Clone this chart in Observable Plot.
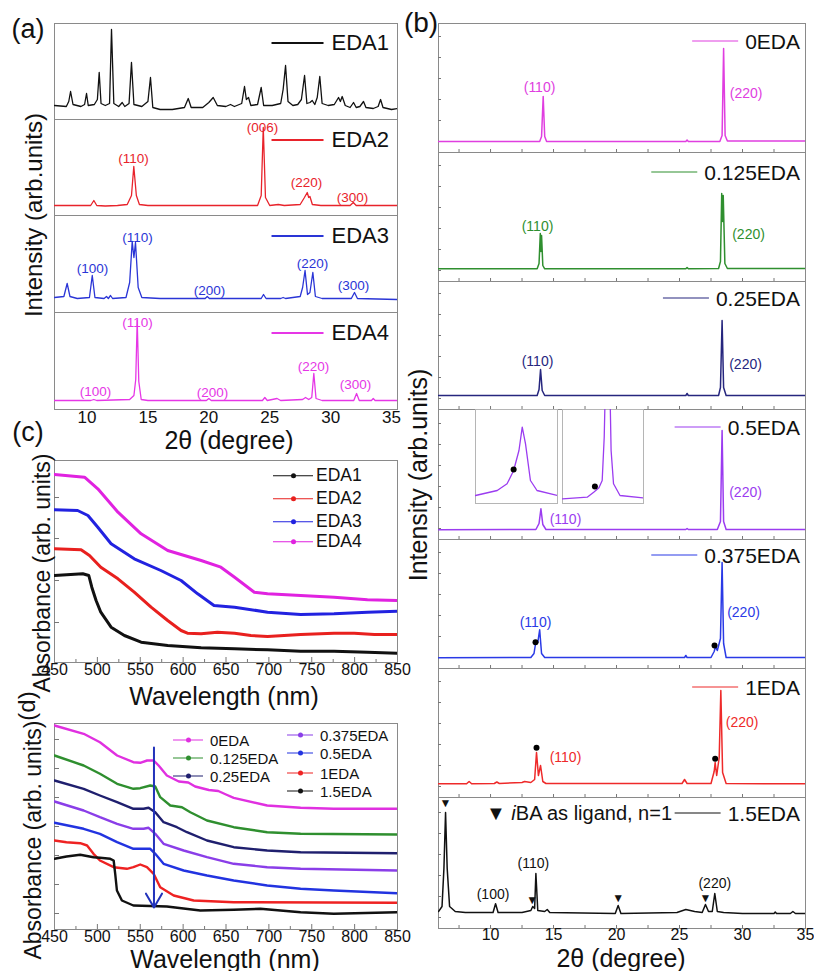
<!DOCTYPE html>
<html><head><meta charset="utf-8">
<script src="https://cdn.jsdelivr.net/npm/d3@7"></script>
<script src="https://cdn.jsdelivr.net/npm/@observablehq/plot@0.6"></script>
<style>
body{margin:0;background:#fff;}
#root{position:relative;width:814px;height:971px;overflow:hidden;font-family:'Liberation Sans',Arial,sans-serif;color:#111;background:#fff;}
.abs{position:absolute;white-space:nowrap;line-height:1;}
.row{position:absolute;display:flex;align-items:center;white-space:nowrap;line-height:1;}
</style></head><body><div id="root"></div>
<script>
// ---------------- DATA ----------------
// Panel (a): XRD patterns, 2θ (deg) vs intensity (arb.)
const eda1 = [[7.33,14],[8.3,13],[8.5,18],[8.65,28],[8.85,15],[9.5,13],[9.8,15],[9.96,26],[10.1,14],[10.6,15],[10.85,20],[11.0,47],[11.15,16],[11.5,14],[11.85,16],[12.01,90],[12.2,16],[12.6,13],[12.89,17],[13.1,13],[13.45,16],[13.65,57],[13.85,15],[14.5,13],[15.0,18],[15.21,42],[15.4,12],[16,10],[17,10],[18.0,12],[18.31,21],[18.55,12],[19.5,12],[20.0,17],[20.36,22],[20.7,14],[21.4,13],[21.78,15],[22.1,13],[22.7,16],[22.93,33],[23.08,20],[23.26,22],[23.45,14],[24.0,15],[24.3,32],[24.5,14],[25.2,14],[25.9,16],[26.1,30],[26.3,54],[26.5,18],[26.9,14],[27.3,15],[27.6,20],[27.86,44],[28.05,16],[28.3,17],[28.49,19],[28.7,15],[28.9,22],[29.11,43],[29.3,16],[29.8,14],[30.3,15],[30.65,22],[30.8,18],[30.95,23],[31.2,14],[31.6,12],[31.88,17],[32.1,12],[32.4,13],[32.7,18],[32.9,12],[33.5,11],[33.9,13],[34.1,20],[34.3,12],[35.0,10],[35.49,11]];
const eda2 = [[7.33,10],[10.3,10],[10.56,15],[10.8,10],[11.5,9.5],[12.5,10],[13.3,11],[13.65,20],[13.84,49],[14.05,20],[14.3,11],[15,10],[20,10],[24.0,10],[24.3,20],[24.47,88],[24.65,18],[25.0,10],[25.7,11],[26.2,10],[27.5,11],[27.85,18],[28.08,23],[28.2,18],[28.3,19],[28.5,11],[29.2,10],[31.6,10],[31.86,13],[32.1,10],[35.49,10]];
const eda3 = [[7.33,15],[8.1,16],[8.37,29],[8.6,16],[9.2,14],[10.2,15],[10.43,37],[10.65,15],[11.4,14],[11.6,16],[11.75,14],[11.93,17],[12.1,14],[13.2,15],[13.5,30],[13.71,71],[13.85,55],[13.98,70],[14.2,25],[14.5,15],[16,14],[19.7,14],[19.87,16],[20.05,14],[24.3,14],[24.49,18],[24.7,14],[25.9,14],[26.1,15],[26.3,14],[27.5,16],[27.7,25],[27.9,42],[28.1,18],[28.3,20],[28.54,40],[28.75,16],[29.3,14],[31.7,14],[31.96,20],[32.2,14],[35.49,13]];
const eda4 = [[7.33,9],[10.3,9],[10.56,10],[10.8,9],[13.5,10],[13.85,14],[14.0,30],[14.12,89],[14.25,28],[14.45,10],[15,9],[19.8,9],[20.0,11],[20.2,9],[24.4,9],[24.6,12],[24.8,9],[25.6,11],[25.9,9],[27.7,10],[27.94,12],[28.2,10],[28.45,12],[28.62,36],[28.8,11],[29.3,9],[31.9,9],[32.13,16],[32.35,9],[33.35,9],[33.5,11],[33.65,9],[35.49,9]];
const lblA2 = [[13.82,57,"(110)"],[24.41,88,"(006)"],[28.02,33,"(220)"],[31.8,18,"(300)"]];
const lblA3 = [[10.45,44,"(100)"],[14.15,75,"(110)"],[20.06,22,"(200)"],[28.51,49,"(220)"],[31.88,27,"(300)"]];
const lblA4 = [[10.7,18,"(100)"],[14.15,87,"(110)"],[20.3,17,"(200)"],[28.6,43,"(220)"],[32.05,25,"(300)"]];
const namesA = ["EDA1","EDA2","EDA3","EDA4"];
const xTickLabelsA = [10,15,20,25,30,35];

// Panel (b): XRD patterns
const b0 = [[5.87,11],[13.9,11],[14.05,16],[14.18,56],[14.3,16],[14.45,11],[25.5,11],[25.6,12.5],[25.7,11],[28.2,11],[28.38,17],[28.5,104],[28.62,17],[28.8,11.5],[35,11.5]];
const b125 = [[5.87,12.7],[13.7,12.7],[13.85,18],[13.95,48],[14.0,30],[14.05,46],[14.15,16],[14.3,12.7],[25.5,12.7],[25.6,14],[25.7,12.7],[28.1,13],[28.25,20],[28.35,88],[28.42,60],[28.47,86],[28.6,18],[28.8,13],[35,13]];
const b25 = [[5.87,14],[13.7,14],[13.85,20],[13.97,40],[14.1,19],[14.3,14],[25.5,14],[25.6,16],[25.7,14],[28.1,14],[28.25,22],[28.38,89],[28.5,22],[28.7,14],[35,14]];
const b5 = [[5.87,9.7],[13.6,10],[13.85,16],[14.0,30.7],[14.15,15],[14.4,10],[25.5,10],[25.6,11],[25.7,10],[28.0,10],[28.25,18],[28.38,109],[28.5,18],[28.7,10],[35,10]];
const b375 = [[5.87,10.7],[13.2,11],[13.45,15],[13.6,27],[13.75,26],[13.9,38.7],[14.05,15],[14.3,11],[25.4,11],[25.5,13],[25.6,11],[27.5,11],[27.75,17],[27.86,21.7],[28.0,18],[28.25,30],[28.38,106],[28.5,25],[28.7,11],[35,11]];
const b1 = [[5.87,13.7],[8.1,13.7],[8.3,16],[8.5,13.7],[10.3,14],[10.5,15.5],[10.7,14],[12.5,15],[12.7,16],[13.2,15],[13.5,18],[13.65,45],[13.8,22],[13.97,32],[14.15,16],[14.4,14],[25.2,14],[25.4,18],[25.6,14],[27.5,14],[27.75,26],[27.83,35],[27.95,22],[28.15,40],[28.28,107],[28.42,25],[28.7,14],[35,13.7]];
const b15 = [[5.87,17],[6.15,22],[6.3,60],[6.43,116],[6.56,60],[6.75,22],[7.2,17],[8,16],[10.2,16],[10.4,24.7],[10.6,16],[12.5,16],[13.2,18],[13.35,22],[13.5,20],[13.6,55],[13.75,18],[14.3,17],[14.5,19],[14.7,16],[19.9,15],[20.13,23],[20.35,15],[24.8,16],[25.5,19],[26.2,17],[26.8,16],[27.06,24],[27.3,17],[27.6,17],[27.8,35],[28.0,17],[28.5,16],[30,15],[32.5,15],[32.6,16.5],[32.7,15],[33.8,15],[34.0,17],[34.2,15],[35,15]];
const lblB0 = [[13.89,65,"(110)"],[30.29,59,"(220)"]];
const lblB125 = [[13.73,55,"(110)"],[30.48,47,"(220)"]];
const lblB25 = [[13.73,48,"(110)"],[30.24,45,"(220)"]];
const lblB5 = [[15.95,20,"(110)"],[30.24,47,"(220)"]];
const lblB375 = [[13.57,46,"(110)"],[30.08,56,"(220)"]];
const lblB1 = [[15.95,40,"(110)"],[29.97,75,"(220)"]];
const lblB15 = [[10.2,34,"(100)"],[13.4,65,"(110)"],[27.8,45,"(220)"]];
const dotsB375 = [[13.57,26.3],[27.78,23]];
const dotsB1 = [[13.65,49.7],[27.83,38.7]];
const triB15 = [[6.43,125],[13.3,28],[20.13,30],[27.06,30]];
const namesB = ["0EDA","0.125EDA","0.25EDA","0.5EDA","0.375EDA","1EDA","1.5EDA"];
const xTickLabelsB = [10,15,20,25,30,35];
// insets of the 0.5EDA pattern
const inset110 = [[13.0,8],[13.53,13],[13.77,19.7],[13.93,33],[14.06,53],[14.14,76.3],[14.22,59.7],[14.34,23],[14.5,13],[15.0,8]];
const inset220 = [[27.5,4.7],[28.11,6.3],[28.27,11.3],[28.4,15.7],[28.48,23],[28.53,66.3],[28.57,140],[28.66,140],[28.7,53],[28.76,19.7],[28.92,8],[29.49,5.7]];
const insetDot110 = [[13.93,34]];
const insetDot220 = [[28.3,17]];

// Panel (c): absorbance vs wavelength (nm)
const c1 = [[450,87],[483,88.7],[490,87],[493.5,75.3],[498.5,62],[504,50.3],[516,35.3],[531.5,27],[551,20.3],[582,17],[621,14.7],[660,13.7],[698.5,12.7],[737,11.3],[776,11.3],[815,10.3],[850,9.3]];
const c2 = [[450,113.7],[481,112.7],[490.8,107],[504,95.3],[524,83.7],[543,70.3],[562.6,55.3],[582,42],[597.6,32],[605,29.3],[621,28.7],[640,30.3],[660,29.3],[679,27],[698.5,26],[737,28],[776,29.3],[799.5,29.3],[823,28],[850,28]];
const c3 = [[450,152.7],[477,152],[489,147],[500.5,135.3],[516,118.7],[543,103.7],[574,92],[597.6,82],[617,68.7],[636,57],[660,55.3],[698.5,50.3],[737,48],[776,48.7],[815,50.3],[850,51.3]];
const c4 = [[450,188],[485,185.3],[500.5,173.7],[524,150.3],[551,128.7],[582,112],[621,102],[644,95.3],[660,85.3],[683,70.3],[698.5,68.7],[737,67],[776,65.3],[815,62.7],[850,62]];
const xTickLabelsCD = [450,500,550,600,650,700,750,800,850];

// Panel (d)
const d0 = [[450,204],[484,195.7],[503,187.3],[523,174],[542,167.3],[550,166.7],[558,169],[565.6,169],[571.4,164],[581,154],[595,148],[606,147],[614,143],[630,139.5],[641,138.5],[650,135],[659,131.7],[698,124],[737,121.7],[775.7,120.7],[850,120.7]];
const d125 = [[450,174],[484,164],[503,155.7],[523,145.7],[542,140.7],[550,141.3],[561.7,144],[567.5,143],[573.3,132.3],[585,124],[598.6,122.3],[608.4,117.3],[627.8,109],[659,102.3],[698,97.3],[737,95.7],[850,95]];
const d25 = [[450,149],[484,140.7],[503,134],[523,127.3],[542,120.7],[553.9,120.7],[559.7,121.7],[567.5,117.3],[577.2,107.3],[592.8,102.3],[604.5,97.3],[627.8,89],[659,82.3],[698,79],[737,77.3],[850,76.3]];
const d375 = [[450,128],[484,119],[503,112.3],[523,105.7],[542,100.7],[553.9,100.7],[559.7,101.7],[567.5,95.7],[577.2,85.7],[600.6,79],[627.8,72.3],[659,65.7],[698,62.3],[737,60.7],[850,59]];
const d5 = [[450,106.7],[484,100.7],[503,95.7],[523,87.3],[542,80.7],[553.9,80.7],[561.7,80.7],[567.5,75.7],[577.2,65.7],[600.6,59],[627.8,54],[659,49],[698,44],[737,40.7],[775.7,39],[850,36.3]];
const d1 = [[450,89],[464,87.3],[480,86.3],[488,84],[495.5,75.7],[503,69],[519,62.3],[534.4,60.7],[542,62.3],[550,65],[557.8,62.3],[565.6,55.7],[573.3,42.3],[589,34],[612.3,29],[659,27.3],[850,26.7]];
const d15 = [[450,70.7],[464,73],[480,74.7],[495.5,72.3],[503,71.7],[515,70.7],[519,69],[520.8,55.7],[522.8,39],[528.6,29],[542,24],[581,23],[620,19],[659,19.7],[690,20.7],[737,17.3],[775.7,15.7],[850,17.3]];
const arrowD = [{x:566, y1:182, y2:22}];
const namesD = ["0EDA","0.125EDA","0.25EDA","0.375EDA","0.5EDA","1EDA","1.5EDA"];

// ---------------- DRAWING ----------------
const FONT = "'Liberation Sans', Arial, sans-serif";
const root = document.getElementById('root');
function put(el, left, top){ el.style.position='absolute'; el.style.left=left+'px'; el.style.top=top+'px'; root.appendChild(el); return el; }

function sub({x0, y0, w, h, xd, yd, marks, axis=null, frameColor='#8a8a8a'}) {
  const mb = axis ? 40 : 0;
  const all = [Plot.frame({stroke: frameColor, strokeWidth: 1}), ...marks];
  if (axis) all.push(Plot.axisX({ticks: axis.ticks, tickSize: 0, tickPadding: axis.pad, fontSize: axis.size, label: null, tickFormat: d => String(d)}));
  const plot = Plot.plot({
    width: w + 2, height: h + 2 + mb,
    marginLeft: 1, marginRight: 1, marginTop: 1, marginBottom: 1 + mb,
    x: axis ? {domain: xd} : {domain: xd, axis: null},
    y: {domain: yd, axis: null},
    style: {background: 'transparent', overflow: 'visible', fontFamily: FONT, color: '#111'},
    marks: all
  });
  return put(plot, x0 - 1, y0 - 1);
}
const X = d => d[0], Y = d => d[1], T = d => d[2];
function ln(data, color, sw) { return Plot.line(data, {x: X, y: Y, stroke: color, strokeWidth: sw, clip: true}); }
function lb(data, color, size) { return Plot.text(data, {x: X, y: Y, text: T, fill: color, fontSize: size}); }
function ticksX(vals, h, len) { return Plot.tickX(vals, {x: d => d, insetTop: h - len, stroke: '#777'}); }
function ticksY(vals, w, len) { return Plot.tickY(vals, {y: d => d, insetRight: w - len, stroke: '#777'}); }

function txt(s, cx, cy, size, {rotate=0, anchor='middle', html=false, color='#111'}={}) {
  const d = document.createElement('div'); d.className = 'abs';
  d.style.fontSize = size + 'px'; d.style.color = color;
  if (html) d.innerHTML = s; else d.textContent = s;
  const tx = anchor === 'middle' ? '-50%' : anchor === 'end' ? '-100%' : '0';
  d.style.transform = `translate(${tx},-50%)` + (rotate ? ` rotate(${rotate}deg)` : '');
  return put(d, cx, cy);
}
function legRow({x, y, color, label, lineW, gap, size, dot=false, right=false, lw=1.6}) {
  const r = document.createElement('div'); r.className = 'row';
  r.style.fontSize = size + 'px';
  const line = document.createElement('div');
  line.style.cssText = `position:relative;width:${lineW}px;height:${lw}px;background:${color};margin-right:${gap}px;flex:none;`;
  if (dot) {
    const c = document.createElement('div');
    c.style.cssText = `position:absolute;left:${lineW/2-2.5}px;top:${lw/2-2.5}px;width:5px;height:5px;border-radius:50%;background:${color};`;
    line.appendChild(c);
  }
  const t = document.createElement('span'); t.textContent = label;
  r.appendChild(line); r.appendChild(t);
  r.style.transform = right ? 'translate(-100%,-50%)' : 'translate(0,-50%)';
  return put(r, x, y);
}

// ---- Panel (a)
const aTops = [23, 119, 215, 312, 409];
const aDom = [7.33, 35.49];
const aSeries = [eda1, eda2, eda3, eda4];
const aColors = ['#111111', '#e8232b', '#2a35d6', '#e636e6'];
const aLabels = [[], lblA2, lblA3, lblA4];
const aLegY = [43, 140, 236, 333];
aSeries.forEach((s, i) => {
  const h = aTops[i+1] - aTops[i];
  sub({x0: 54, y0: aTops[i], w: 343, h, xd: aDom, yd: [0, h],
    marks: [ln(s, aColors[i], 1.3), lb(aLabels[i], aColors[i], 13.5)],
    axis: i === 3 ? {ticks: xTickLabelsA, size: 17, pad: 1} : null});
  legRow({x: 389, y: aLegY[i], color: aColors[i], label: namesA[i], lineW: 52, gap: 8, size: 22, right: true, lw: 1.5});
});
txt('(a)', 28, 29, 27);
txt('Intensity (arb.units)', 34, 215, 24, {rotate: -90});
txt('2θ (degree)', 229, 440, 25);

// ---- Panel (b)
const bTops = [23, 152, 281, 409, 539, 668, 797, 928];
const bDom = [5.87, 35];
const bSeries = [b0, b125, b25, b5, b375, b1, b15];
const bColors = ['#e03ee0', '#2f8f2f', '#26267e', '#9b3cf0', '#2a3ae6', '#ee2a2a', '#111111'];
const bLabels = [lblB0, lblB125, lblB25, lblB5, lblB375, lblB1, lblB15];
const bLegY = [41, 172, 298, 427, 555, 687, 813];
const bTickX = [7.5,10,12.5,15,17.5,20,22.5,25,27.5,30,32.5];
const bTickY = [11,32,53,74,95,116];
bSeries.forEach((s, i) => {
  const h = bTops[i+1] - bTops[i];
  const marks = [ticksX(bTickX, h, 3), ticksY(bTickY, 367, 3), ln(s, bColors[i], 1.5), lb(bLabels[i], bColors[i], 14)];
  if (i === 4) marks.push(Plot.dot(dotsB375, {x: X, y: Y, r: 3, fill: '#000'}));
  if (i === 5) marks.push(Plot.dot(dotsB1, {x: X, y: Y, r: 3, fill: '#000'}));
  if (i === 6) marks.push(Plot.text(triB15, {x: X, y: Y, text: () => '▼', fontSize: 12, fill: '#111'}));
  sub({x0: 438, y0: bTops[i], w: 367, h, xd: bDom, yd: [0, h], marks,
    axis: i === 6 ? {ticks: xTickLabelsB, size: 16, pad: 0} : null});
  legRow({x: 800, y: bLegY[i], color: bColors[i], label: namesB[i], lineW: 46, gap: 7, size: 21, right: true, lw: 1.6});
});
// insets in the 0.5EDA panel
sub({x0: 475, y0: 409, w: 82, h: 94, xd: [13, 15], yd: [0, 94], frameColor: '#b5b5b5',
  marks: [ln(inset110, '#9b3cf0', 1.3), Plot.dot(insetDot110, {x: X, y: Y, r: 3, fill: '#000'})]});
sub({x0: 562, y0: 409, w: 81, h: 94, xd: [27.5, 29.5], yd: [0, 94], frameColor: '#b5b5b5',
  marks: [ln(inset220, '#9b3cf0', 1.3), Plot.dot(insetDot220, {x: X, y: Y, r: 3, fill: '#000'})]});
txt('▼ <i>i</i>BA as ligand, n=1', 486, 813, 20, {anchor: 'start', html: true});
txt('(b)', 421, 23, 28);
txt('Intensity (arb.units)', 418, 475, 25, {rotate: -90});
txt('2θ (degree)', 621, 958, 25);

// ---- Panel (c)
const cSeries = [c1, c2, c3, c4];
const cColors = ['#111111', '#e8201e', '#2222e0', '#e022e0'];
const cLegY = [476, 499, 522, 542];
const cdTickMajor = [500,550,600,650,700,750,800];
const cdTickMinor = [475,525,575,625,675,725,775,825];
sub({x0: 54, y0: 460, w: 343, h: 202, xd: [450, 850], yd: [0, 202],
  marks: [ticksX(cdTickMajor, 202, 5), ticksX(cdTickMinor, 202, 3), ticksY([40, 82, 124, 165], 343, 5),
    ...cSeries.map((s, i) => ln(s, cColors[i], 3))],
  axis: {ticks: xTickLabelsCD, size: 16, pad: 1}});
cSeries.forEach((s, i) => legRow({x: 273, y: cLegY[i], color: cColors[i], label: namesA[i], lineW: 40, gap: 3, size: 17.5, dot: true, lw: 1}));
txt('(c)', 28, 432, 27);
txt('Absorbance (arb. units)', 42, 573, 23, {rotate: -90});
txt('Wavelength (nm)', 224, 696, 25);

// ---- Panel (d)
const dSeries = [d0, d125, d25, d375, d5, d1, d15];
const dColors = ['#e030e0', '#2f8f2f', '#1f1f6e', '#8a3ee8', '#2233e0', '#ee2222', '#111111'];
sub({x0: 54, y0: 723, w: 343, h: 206, xd: [450, 850], yd: [0, 206],
  marks: [ticksX(cdTickMajor, 206, 5), ticksX(cdTickMinor, 206, 3), ticksY([16,45,74,103,132,161,190], 343, 5),
    ...dSeries.map((s, i) => ln(s, dColors[i], 2.4)),
    Plot.arrow(arrowD, {x1: 'x', x2: 'x', y1: 'y1', y2: 'y2', stroke: '#2233bb', strokeWidth: 2, headLength: 12})],
  axis: {ticks: xTickLabelsCD, size: 16, pad: 1}});
const dLeg = [[173, 740, 0], [173, 758, 1], [173, 776, 2], [287, 735, 3], [287, 753, 4], [287, 773, 5], [287, 791, 6]];
dLeg.forEach(([x, y, i]) => legRow({x, y, color: dColors[i], label: namesD[i], lineW: i < 3 ? 30 : 26, gap: 7, size: 15, dot: true, lw: 1}));
txt('(d)', 27, 706, 24, {rotate: -90});
txt('Absorbance (arb. units)', 33, 840, 23, {rotate: -90});
txt('Wavelength (nm)', 225, 959, 25);
</script></body></html>
